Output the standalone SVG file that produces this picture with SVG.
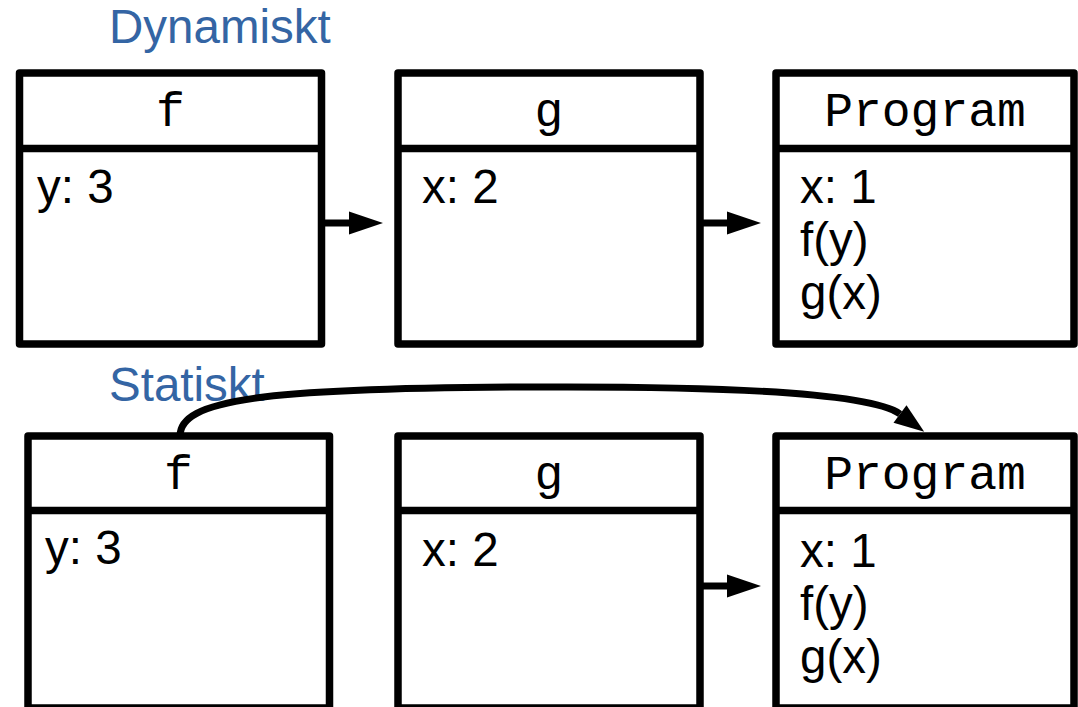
<svg xmlns="http://www.w3.org/2000/svg" width="1078" height="707" viewBox="0 0 1078 707">
  <style>
    .frame { fill: #ffffff; stroke: #000000; stroke-width: 7.5; stroke-linejoin: round; }
    .divider { stroke: #000000; stroke-width: 7.5; }
    .title { font-family: "Liberation Mono", "DejaVu Sans Mono", monospace; font-size: 48px; fill: #000000; text-anchor: middle; }
    .body { font-family: "Liberation Sans", "DejaVu Sans", sans-serif; font-size: 47.5px; fill: #000000; }
    .heading { font-family: "Liberation Sans", "DejaVu Sans", sans-serif; font-size: 47.5px; fill: #3465a4; }
    .edge { fill: none; stroke: #000000; stroke-width: 7; }
  </style>
  <defs>
    <marker id="head" markerUnits="userSpaceOnUse" markerWidth="34" markerHeight="23" refX="0" refY="11.5" orient="auto" overflow="visible">
      <path d="M0,0 L34,11.5 L0,23 Z" fill="#000000"/>
    </marker>
    <marker id="headSmall" markerUnits="userSpaceOnUse" markerWidth="30" markerHeight="22" refX="0" refY="11" orient="auto" overflow="visible">
      <path d="M0,0 L30,11 L0,22 Z" fill="#000000"/>
    </marker>
  </defs>

  <rect width="1078" height="707" fill="#ffffff"/>

  <!-- section headings -->
  <text class="heading" x="109" y="43">Dynamiskt</text>
  <text class="heading" x="109" y="401">Statiskt</text>

  <!-- dynamic scoping: upper row of frames -->
  <g id="dyn-f">
    <rect class="frame" x="19.5" y="73" width="302" height="271"/>
    <line class="divider" x1="19.5" y1="148.5" x2="321.5" y2="148.5"/>
    <text class="title" x="170.5" y="126">f</text>
    <text class="body" x="37" y="203">y: 3</text>
  </g>
  <g id="dyn-g">
    <rect class="frame" x="398" y="73" width="302" height="271"/>
    <line class="divider" x1="398" y1="148.5" x2="700" y2="148.5"/>
    <text class="title" x="549" y="126">g</text>
    <text class="body" x="422" y="203">x: 2</text>
  </g>
  <g id="dyn-program">
    <rect class="frame" x="776" y="73" width="298" height="271"/>
    <line class="divider" x1="776" y1="148.5" x2="1074" y2="148.5"/>
    <text class="title" x="925" y="126">Program</text>
    <text class="body" x="800" y="203">x: 1</text>
    <text class="body" x="800" y="256">f(y)</text>
    <text class="body" x="800" y="309">g(x)</text>
  </g>

  <!-- static scoping: lower row of frames -->
  <g id="stat-f">
    <rect class="frame" x="28" y="436" width="301.5" height="272"/>
    <line class="divider" x1="28" y1="510.5" x2="329.5" y2="510.5"/>
    <text class="title" x="178.5" y="489">f</text>
    <text class="body" x="45" y="564">y: 3</text>
  </g>
  <g id="stat-g">
    <rect class="frame" x="398" y="436" width="302" height="272"/>
    <line class="divider" x1="398" y1="510.5" x2="700" y2="510.5"/>
    <text class="title" x="549" y="489">g</text>
    <text class="body" x="422" y="566">x: 2</text>
  </g>
  <g id="stat-program">
    <rect class="frame" x="776" y="436" width="298" height="272"/>
    <line class="divider" x1="776" y1="510.5" x2="1074" y2="510.5"/>
    <text class="title" x="925" y="489">Program</text>
    <text class="body" x="800" y="567">x: 1</text>
    <text class="body" x="800" y="620">f(y)</text>
    <text class="body" x="800" y="673">g(x)</text>
  </g>

  <!-- access links between frames -->
  <g id="connectors">
    <line class="edge" x1="322" y1="223" x2="349" y2="223" marker-end="url(#head)"/>
    <line class="edge" x1="700" y1="223" x2="727" y2="223" marker-end="url(#head)"/>
    <line class="edge" x1="700" y1="586" x2="727" y2="586" marker-end="url(#head)"/>
    <path class="edge" d="M180,436 C180,400 260,388 530,387 C720,386 870,392 900,414" marker-end="url(#headSmall)"/>
  </g>
</svg>
